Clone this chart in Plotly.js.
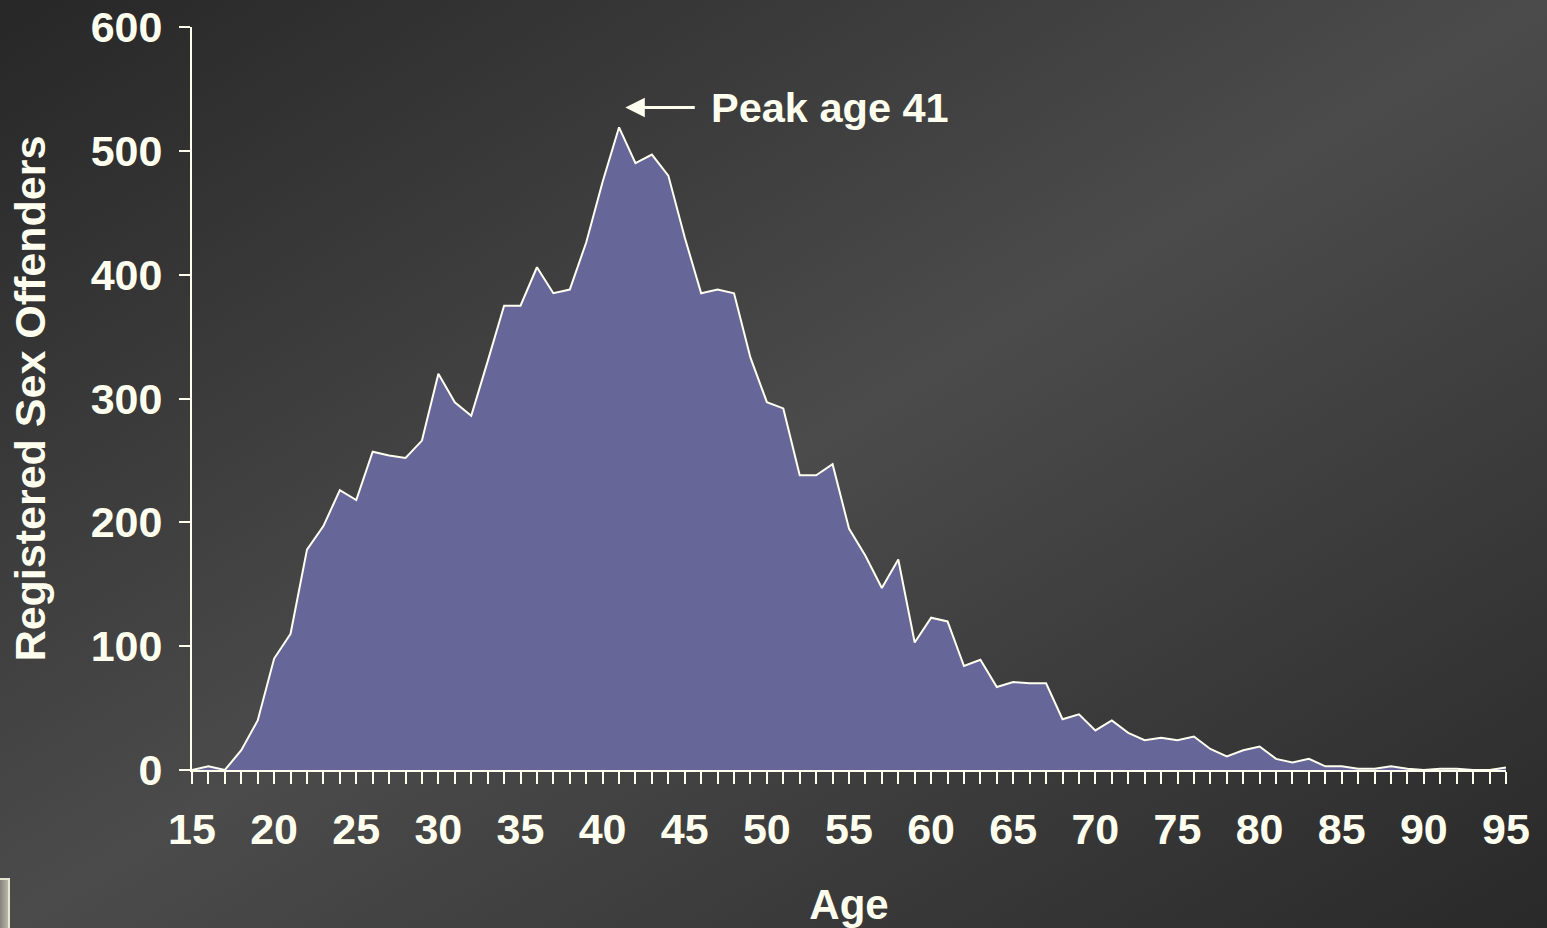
<!DOCTYPE html>
<html>
<head>
<meta charset="utf-8">
<script src="https://cdn.plot.ly/plotly-3.0.1.min.js"></script>
<style>
  html, body { margin: 0; padding: 0; width: 1547px; height: 928px; overflow: hidden;
    background: linear-gradient(to bottom right, #272727 0%, #4b4b4b 50%, #292929 100%); }
  #chart { width: 1547px; height: 928px; }
  #icon { position: absolute; left: -4px; top: 878px; width: 10px; height: 52px;
    border: 2px solid #e8e6d0; background: linear-gradient(to right, #7a7872, #b8b5aa); }
</style>
</head>
<body>
<div id="chart"></div>
<div id="icon"></div>
<script>
const ages = [];
for (let a = 15; a <= 95; a++) ages.push(a);
const offenders = [
  0, 3, 0, 16, 40, 90, 110, 178, 197, 226,
  218, 257, 254, 252, 266, 320, 297, 286, 330, 375,
  375, 406, 385, 388, 426, 475, 519, 490, 497, 480,
  430, 385, 388, 385, 333, 297, 292, 238, 238, 247,
  195, 173, 147, 170, 103, 123, 120, 84, 89, 67,
  71, 70, 70, 41, 45, 32, 40, 30, 24, 26,
  24, 27, 17, 11, 16, 19, 9, 6, 9, 3,
  3, 1, 1, 3, 1, 0, 1, 1, 0, 0,
  2
];
const xTickVals = [15, 20, 25, 30, 35, 40, 45, 50, 55, 60, 65, 70, 75, 80, 85, 90, 95];
const yTickVals = [0, 100, 200, 300, 400, 500, 600];
const peakAge = 41;
const peakLabel = 'Peak age 41';
const xTitle = 'Age';
const yTitle = 'Registered Sex Offenders';

const ink = '#fffff0';
const fontFam = '"Liberation Sans", Arial, sans-serif';

const trace = {
  x: ages, y: offenders, type: 'scatter', mode: 'lines',
  fill: 'tozeroy', fillcolor: '#666699',
  line: { color: ink, width: 2 },
  hoverinfo: 'skip'
};

const layout = {
  width: 1547, height: 928,
  margin: { l: 192, r: 41, t: 27, b: 158 },
  paper_bgcolor: 'rgba(0,0,0,0)', plot_bgcolor: 'rgba(0,0,0,0)',
  showlegend: false,
  font: { family: fontFam, color: ink, size: 43, weight: 'bold' },
  xaxis: {
    range: [15, 95], tickvals: xTickVals, showgrid: false, zeroline: false,
    showline: true, linecolor: ink, linewidth: 2,
    ticks: 'outside', ticklen: 12, tickwidth: 2, tickcolor: ink,
    minor: { dtick: 1, tick0: 15, ticks: 'outside', ticklen: 12, tickwidth: 2, tickcolor: ink, showgrid: false },
    tickfont: { family: fontFam, size: 43, color: ink, weight: 'bold' },
    ticklabelstandoff: 8,
    title: { text: xTitle, font: { family: fontFam, size: 42, color: ink, weight: 'bold' }, standoff: 38 }
  },
  yaxis: {
    range: [0, 600], tickvals: yTickVals, showgrid: false, zeroline: false,
    showline: true, linecolor: ink, linewidth: 2,
    ticks: 'outside', ticklen: 11, tickwidth: 2, tickcolor: ink,
    tickfont: { family: fontFam, size: 43, color: ink, weight: 'bold' },
    ticklabelstandoff: 8,
    title: { text: yTitle, font: { family: fontFam, size: 43, color: ink, weight: 'bold' }, standoff: 32 }
  },
  annotations: [
    {
      x: peakAge + 0.38, y: 535, xref: 'x', yref: 'y',
      ax: 45.7, ay: 535, axref: 'x', ayref: 'y',
      text: '', showarrow: true, arrowhead: 2, arrowsize: 1.3, arrowwidth: 3, arrowcolor: ink
    },
    {
      x: 46.5, y: 535, xref: 'x', yref: 'y', xanchor: 'left', yanchor: 'middle',
      text: peakLabel, showarrow: false,
      font: { family: fontFam, size: 41.5, color: ink, weight: 'bold' }
    }
  ]
};

Plotly.newPlot('chart', [trace], layout, { displayModeBar: false, staticPlot: true });
</script>
</body>
</html>
